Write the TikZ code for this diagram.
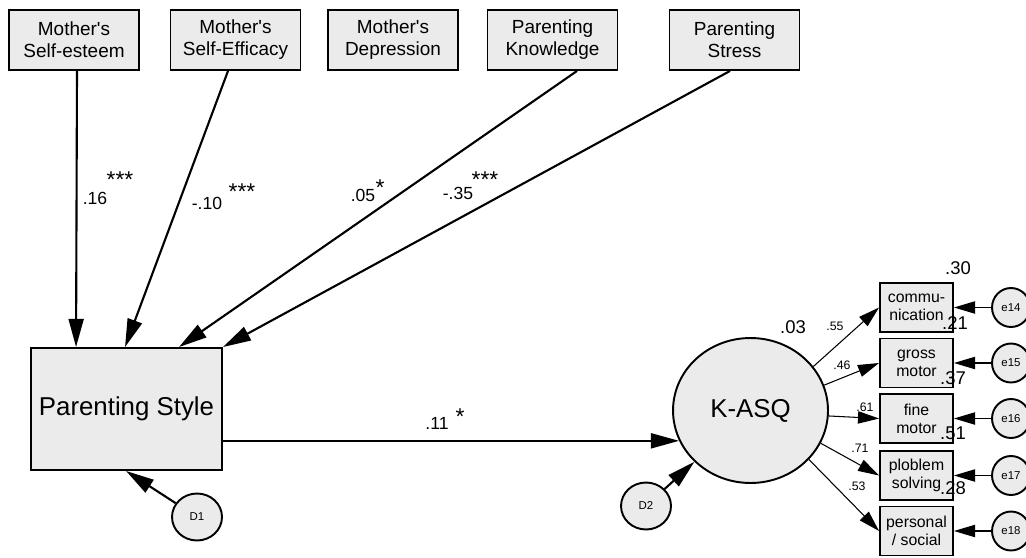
\documentclass[tikz,border=0pt]{standalone}
\usepackage{fontspec}
\setmainfont{Liberation Sans}
\usepackage{xcolor}
\usetikzlibrary{arrows.meta, shapes.geometric}
\definecolor{boxgray}{HTML}{EBEBEB}

\begin{document}
\begin{tikzpicture}[x=0.02cm, y=-0.02cm,
    varbox/.style={draw, line width=1.1pt, fill=boxgray, align=center, inner sep=0pt},
    topbox/.style={varbox, minimum width=2.6cm, minimum height=1.2cm, font=\fontsize{10.8}{12.5}\selectfont},
    indbox/.style={varbox, minimum width=1.46cm, minimum height=0.98cm, font=\fontsize{9}{10.2}\selectfont},
    latent/.style={draw, line width=1.1pt, fill=boxgray, ellipse, inner sep=0pt},
    errc/.style={latent, minimum width=0.76cm, minimum height=0.78cm, font=\fontsize{6.5}{7}\selectfont},
    distc/.style={latent, minimum width=1.0cm, minimum height=0.94cm, font=\fontsize{6.5}{7}\selectfont},
    bigarrow/.style={line width=1.2pt, -{Triangle[length=16pt,width=8.5pt]}},
    smallarrow/.style={line width=0.6pt, -{Triangle[length=12pt,width=7pt]}},
    coef/.style={inner sep=0pt, font=\fontsize{10}{12}\selectfont},
    stars/.style={inner sep=0pt, font=\fontsize{13}{14}\selectfont},
    tinycoef/.style={inner sep=0pt, font=\fontsize{7}{8}\selectfont},
    rsq/.style={inner sep=0pt, font=\fontsize{10.5}{12}\selectfont}]
    \useasboundingbox (0,0) rectangle (1026,557);

    \node[topbox] (mse) at (74,40) {Mother\textquotesingle s\\Self-esteem};
    \node[topbox] (mef) at (235.5,40) {Mother\textquotesingle s\\Self-Efficacy};
    \node[topbox] (mdp) at (393,40) {Mother\textquotesingle s\\Depression};
    \node[topbox] (pkn) at (552.5,40) {Parenting\\Knowledge};
    \node[topbox] (pst) at (734.5,40) {Parenting\\Stress};

    \node[varbox, minimum width=3.82cm, minimum height=2.44cm, font=\fontsize{14.7}{17}\selectfont] (ps) at (126.5,409) {Parenting Style};
    \node[latent, minimum width=3.1cm, minimum height=2.9cm, font=\fontsize{14.7}{17}\selectfont] (ka) at (750.5,410.5) {K-ASQ};
    \node[distc] (d1) at (197,517) {D1};
    \node[distc] (d2) at (646,506) {D2};

    \node[indbox] (com) at (916.5,307.5) {commu-\\nication};
    \node[indbox] (gro) at (916.5,363) {gross\\motor};
    \node[indbox] (fin) at (916.5,418.5) {fine\\motor};
    \node[indbox] (pro) at (916.5,475.5) {ploblem\\solving};
    \node[indbox] (per) at (916.5,531) {personal\\/ social};

    \node[errc] (e14) at (1011,307.5) {e14};
    \node[errc] (e15) at (1011,363) {e15};
    \node[errc] (e16) at (1011,418.5) {e16};
    \node[errc] (e17) at (1011,475.5) {e17};
    \node[errc] (e18) at (1011,531) {e18};

    \draw[bigarrow] ([xshift=0.06cm]mse.south) -- ([xshift=0.92cm]ps.north west);
    \draw[bigarrow] ([xshift=-0.15cm]mef.south) -- ([xshift=1.9cm]ps.north west);
    \draw[bigarrow] ([xshift=0.49cm]pkn.south) -- ([xshift=2.98cm]ps.north west);
    \draw[bigarrow] ([xshift=-0.09cm]pst.south) -- (ps.north east);
    \draw[bigarrow] (ka.203 -| ps.east) -- (ka.203);
    \draw[bigarrow] (d1) -- ([xshift=1.92cm]ps.south west);
    \draw[bigarrow] (d2) -- (ka);

    \draw[smallarrow] (ka.35) -- (com.west);
    \draw[smallarrow] (ka.19) -- (gro.west);
    \draw[smallarrow] (ka.-4) -- (fin.west);
    \draw[smallarrow] (ka.-25) -- (pro.west);
    \draw[smallarrow] (ka.-40) -- (per.west);
    \foreach \e/\b in {e14/com, e15/gro, e16/fin, e17/pro, e18/per}
        \draw[smallarrow] (\e) -- (\b.east);

    \node[coef] (c16) at (95,198) {.16};
    \node[stars] (s16) at (120,180) {***};
    \node[coef] (c10) at (207,203) {-.10};
    \node[stars] (s10) at (242,192) {***};
    \node[coef] (c05) at (363,195) {.05};
    \node[stars] (s05) at (380,188) {*};
    \node[coef] (c35) at (458,193) {-.35};
    \node[stars] (s35) at (485,180) {***};
    \node[coef] (c11) at (437,423) {.11};
    \node[stars] (s11) at (460,417) {*};

    \node[tinycoef] (l55) at (835,326) {.55};
    \node[tinycoef] (l46) at (842,365) {.46};
    \node[tinycoef] (l61) at (865,407) {.61};
    \node[tinycoef] (l71) at (860,448) {.71};
    \node[tinycoef] (l53) at (857,486) {.53};

    \node[rsq] (r03) at (793,327) {.03};
    \node[rsq] (r30) at (958,268) {.30};
    \node[rsq] (r21) at (955,323) {.21};
    \node[rsq] (r37) at (953,378) {.37};
    \node[rsq] (r51) at (953,433) {.51};
    \node[rsq] (r28) at (953,488) {.28};
\end{tikzpicture}
\end{document}
